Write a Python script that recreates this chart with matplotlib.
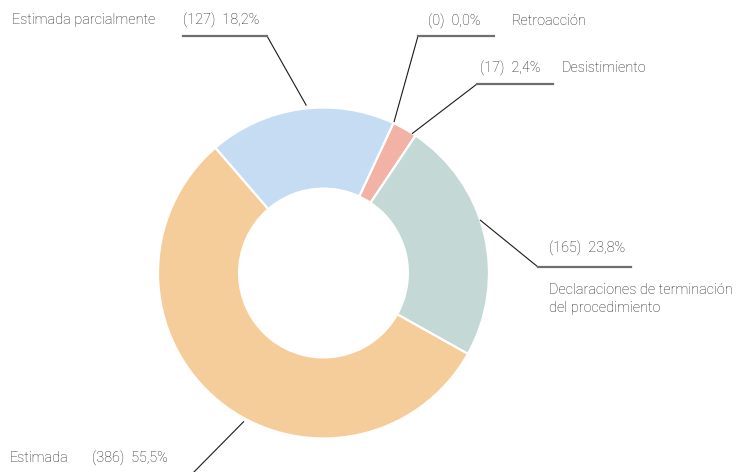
import matplotlib.pyplot as plt
import numpy as np

plt.rcParams['font.family'] = ['Roboto', 'DejaVu Sans']

# data, clockwise from the top-right
categorias = ['Retroacción', 'Desistimiento',
              'Declaraciones de terminación\ndel procedimiento',
              'Estimada', 'Estimada parcialmente']
valores = [0, 17, 165, 386, 127]
porcentajes = ['0,0%', '2,4%', '23,8%', '55,5%', '18,2%']
colores = ['#f3b2a6', '#f3b2a6', '#c4d9d6', '#f5cd9a', '#c6dcf2']

W, H = 744, 472
fig = plt.figure(figsize=(W / 100, H / 100), dpi=100)
ax = fig.add_axes([0, 0, 1, 1])

cx, cy, R = 323.5, H - 273, 165.5
wedges, _ = ax.pie(valores, colors=colores, startangle=65, counterclock=False,
                   center=(cx, cy), radius=R,
                   wedgeprops=dict(width=R * 0.49, edgecolor='white', linewidth=1.6))
ax.set_xlim(0, W)
ax.set_ylim(0, H)
ax.set_aspect('equal')
ax.axis('off')

# label layout (pixel coords from top): anchor fraction along wedge (clockwise),
# elbow, line end, value text position, name text position
layout = [
    dict(frac=0.5, rr=1.01, elbow=(418, 36), end=(494, 36), val=(428, 21), nom=(512, 21)),
    dict(frac=0.85, rr=1.0, elbow=(477, 84), end=(553, 84), val=(480, 68), nom=(562, 68)),
    dict(frac=0.44, rr=1.0, elbow=(538, 267), end=(631, 267), val=(549, 248), nom=(549, 299)),
    dict(frac=0.445, rr=1.02, elbow=(190, 476), end=(100, 476), val=(92, 458), nom=(10, 458)),
    dict(frac=0.53, rr=1.02, elbow=(267, 36), end=(183, 36), val=(183, 20), nom=(12, 20)),
]

for w, v, p, nombre, lay in zip(wedges, valores, porcentajes, categorias, layout):
    ang = np.deg2rad(w.theta2 - (w.theta2 - w.theta1) * lay['frac'])
    px, py = cx + R * lay['rr'] * np.cos(ang), cy + R * lay['rr'] * np.sin(ang)
    ex, ey = lay['elbow'][0], H - lay['elbow'][1]
    ax.plot([px, ex], [py, ey], color='#1a1a1a', lw=0.8, clip_on=False)
    ax.plot([ex, lay['end'][0]], [ey, H - lay['end'][1]], color='#6e6e6e', lw=1.6, clip_on=False)
    ax.text(lay['val'][0], H - lay['val'][1], f'({v})  {p}', fontsize=10.4,
            color='#1c1c1c', va='center', ha='left', fontweight='light')
    ax.text(lay['nom'][0], H - lay['nom'][1], nombre, fontsize=10.4, fontweight='light',
            color='#1c1c1c', va='center', ha='left', linespacing=1.3)

fig.savefig('out.png', dpi=100)
